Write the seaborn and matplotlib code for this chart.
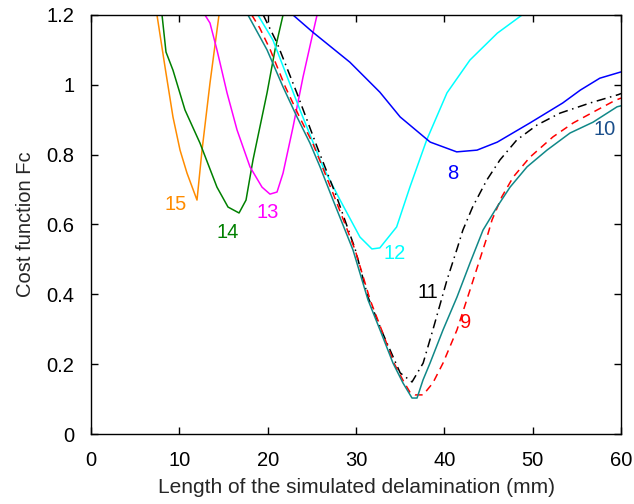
import matplotlib
matplotlib.use("Agg")
import matplotlib.pyplot as plt
import seaborn as sns
import pandas as pd
from matplotlib.ticker import FuncFormatter, MultipleLocator

sns.set_theme(style="ticks")
plt.rcParams['font.family'] = ['Liberation Sans', 'DejaVu Sans']

# curve 15 (orange)
x15 = [7.47, 8.38, 9.28, 10.08, 10.87, 12.0, 12.57, 13.47, 14.49]
y15 = [1.20, 1.051, 0.908, 0.813, 0.747, 0.670, 0.813, 1.005, 1.20]
# curve 14 (green)
x14 = [8.04, 8.49, 9.28, 10.64, 12.34, 14.26, 15.51, 16.76, 17.55, 18.34, 19.93, 20.83, 21.74]
y14 = [1.20, 1.094, 1.042, 0.928, 0.833, 0.707, 0.650, 0.633, 0.670, 0.785, 0.977, 1.10, 1.20]
# curve 13 (magenta)
x13 = [12.9, 13.47, 14.26, 15.4, 16.53, 18.0, 19.36, 20.26, 21.06, 21.74, 22.87, 24.0, 25.02, 25.59]
y13 = [1.20, 1.177, 1.10, 0.977, 0.871, 0.765, 0.707, 0.687, 0.693, 0.747, 0.879, 1.022, 1.137, 1.20]
# curve 12 (cyan)
x12 = [18.9, 20.6, 23.66, 26.26, 28.2, 30.45, 31.8, 32.7, 34.6, 36.1, 38.0, 40.3, 42.9, 46.0, 48.8]
y12 = [1.20, 1.128, 0.928, 0.765, 0.670, 0.564, 0.530, 0.533, 0.593, 0.707, 0.842, 0.977, 1.071, 1.148, 1.20]
# curve 8 (blue)
x8 = [22.87, 25.1, 29.3, 32.7, 35.0, 38.4, 41.4, 43.7, 46.0, 49.7, 53.4, 55.4, 57.6, 60.0]
y8 = [1.20, 1.151, 1.065, 0.979, 0.908, 0.836, 0.808, 0.813, 0.836, 0.891, 0.948, 0.985, 1.019, 1.037]
# curve 10 (teal)
x10 = [17.77, 18.57, 19.93, 21.74, 23.32, 24.79, 25.93, 27.4, 29.66, 31.36, 32.72, 34.19, 35.32,
       36.34, 36.91, 37.59, 38.38, 39.85, 41.43, 42.91, 44.38, 45.96, 47.44, 49.36, 51.62,
       54.23, 56.83, 59.55, 60.0]
y10 = [1.20, 1.163, 1.10, 0.994, 0.908, 0.833, 0.765, 0.670, 0.527, 0.384, 0.298, 0.203, 0.146,
       0.103, 0.103, 0.155, 0.203, 0.298, 0.392, 0.490, 0.584, 0.650, 0.707, 0.765, 0.813,
       0.862, 0.893, 0.937, 0.940]
# curve 9 (red dashed)
x9 = [18.2, 19.1, 20.3, 22.0, 23.6, 25.1, 26.2, 27.7, 29.9, 31.6, 32.9, 34.3, 35.4,
      36.1, 36.7, 37.6, 38.7, 39.85, 41.43, 42.9, 44.83, 45.4, 46.5, 47.8, 49.7, 52.3,
      54.6, 57.3, 59.3, 60.0]
y9 = [1.20, 1.163, 1.10, 0.994, 0.908, 0.833, 0.765, 0.670, 0.527, 0.384, 0.298, 0.203, 0.150,
      0.120, 0.112, 0.112, 0.146, 0.203, 0.298, 0.412, 0.564, 0.613, 0.679, 0.736, 0.793, 0.851,
      0.891, 0.928, 0.955, 0.962]
# curve 11 (black dash-dot)
x11 = [19.5, 21.06, 23.3, 25.6, 27.8, 29.9, 31.36, 33.0, 35.0, 36.34, 37.6, 38.7, 40.3, 41.5,
       42.1, 43.2, 44.8, 46.3, 48.2, 50.5, 53.1, 56.5, 59.7, 60.0]
y11 = [1.20, 1.12, 0.977, 0.822, 0.680, 0.530, 0.392, 0.290, 0.175, 0.149, 0.203, 0.298, 0.441,
       0.535, 0.584, 0.650, 0.727, 0.785, 0.842, 0.885, 0.919, 0.948, 0.972, 0.975]

# curve labels
lab_text = ["15", "14", "13", "12", "8", "11", "9", "10"]
lab_x = [9.62, 15.5, 20.0, 34.4, 41.0, 38.15, 42.45, 58.1]
lab_y = [0.656, 0.578, 0.633, 0.518, 0.747, 0.404, 0.318, 0.873]

series = [
    (x15, y15, "#ff8c00", "-"),
    (x14, y14, "#008000", "-"),
    (x13, y13, "#ff00ff", "-"),
    (x12, y12, "#00ffff", "-"),
    (x8, y8, "#0000ff", "-"),
    (x11, y11, "#000000", (0, (6, 3, 1, 3))),
    (x9, y9, "#ff0000", (0, (5, 3.5))),
    (x10, y10, "#108888", "-"),
]
lab_colors = ["#ff8c00", "#008000", "#ff00ff", "#00ffff", "#0000ff", "#000000", "#ff0000", "#1a4e8a"]

fig = plt.figure(figsize=(6.34, 5.04), dpi=100)
ax = fig.add_axes([91/634, 1-434/504, 530/634, 419/504])

for xs, ys, col, ls in series:
    df = pd.DataFrame({"x": xs, "y": ys})
    sns.lineplot(data=df, x="x", y="y", ax=ax, color=col, linestyle=ls,
                 linewidth=1.1, sort=False, estimator=None)

for t, lx, ly, c in zip(lab_text, lab_x, lab_y, lab_colors):
    ax.text(lx, ly, t, color=c, fontsize=14.5, ha="center", va="center")

ax.set_xlim(0, 60)
ax.set_ylim(0, 1.2)
ax.xaxis.set_major_locator(MultipleLocator(10))
ax.yaxis.set_major_locator(MultipleLocator(0.2))
ax.yaxis.set_major_formatter(FuncFormatter(lambda v, p: "%g" % round(v, 2)))
ax.tick_params(direction="in", length=5, width=1, top=True, right=True,
               labelsize=14.5, colors="black")
ax.tick_params(axis="y", pad=12)
ax.tick_params(axis="x", pad=12)
for s in ax.spines.values():
    s.set_visible(True)
    s.set_linewidth(1.0)
    s.set_color("black")
ax.set_xlabel("Length of the simulated delamination (mm)", fontsize=15, labelpad=6)
ax.set_ylabel("Cost function Fc", fontsize=14.5, labelpad=8)

fig.savefig("out.png", dpi=100)
